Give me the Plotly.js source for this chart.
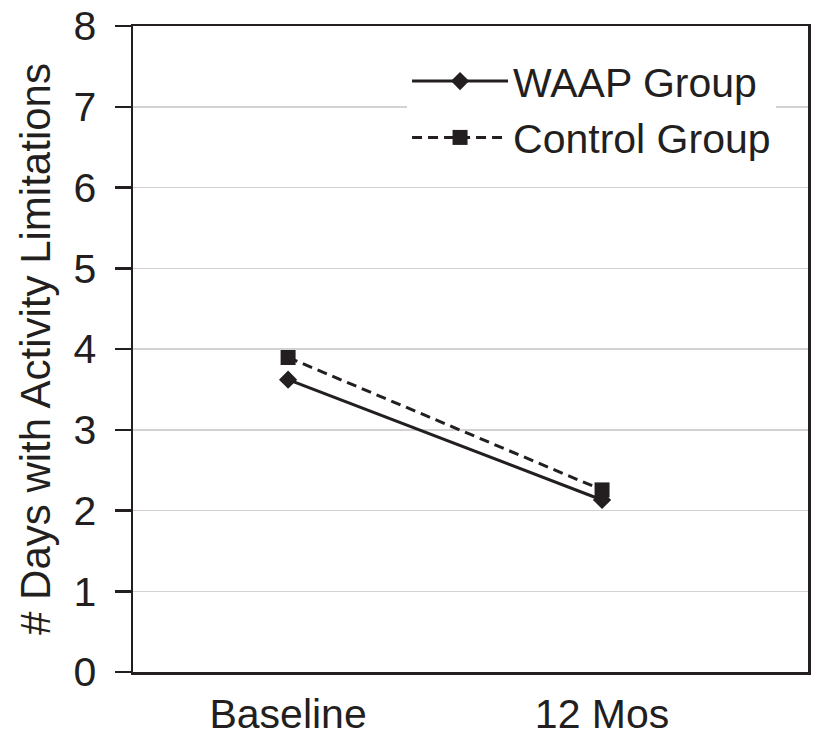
<!DOCTYPE html>
<html>
<head>
<meta charset="utf-8">
<script src="https://cdn.plot.ly/plotly-3.0.1.min.js"></script>
<style>html,body{margin:0;padding:0;background:#fff;}#chart{width:816px;height:738px;}</style>
</head>
<body>
<div id="chart"></div>
<script>
const categories = ["Baseline", "12 Mos"];
const waapValues = [3.62, 2.13];
const controlValues = [3.895, 2.255];
const yTickVals = [0, 1, 2, 3, 4, 5, 6, 7, 8];
const seriesNames = ["WAAP Group", "Control Group"];

const ink = "#231f20";
const traces = [
  {
    x: categories, y: waapValues, name: seriesNames[0], type: "scatter", mode: "lines+markers",
    line: {color: ink, width: 3},
    marker: {symbol: "diamond", size: 14, color: ink}
  },
  {
    x: categories, y: controlValues, name: seriesNames[1], type: "scatter", mode: "lines+markers",
    line: {color: ink, width: 3, dash: "10px,6px"},
    marker: {symbol: "square", size: 15, color: ink}
  }
];

const layout = {
  width: 816, height: 738,
  margin: {l: 133, r: 8, t: 26, b: 66},
  paper_bgcolor: "#fff", plot_bgcolor: "#fff",
  font: {family: "Liberation Sans, Arial, sans-serif", color: ink, size: 41},
  showlegend: true,
  legend: {
    x: 0.406, y: 0.966, xanchor: "left", yanchor: "top",
    bgcolor: "#fff", font: {size: 41, color: ink}, itemwidth: 96
  },
  xaxis: {
    type: "category", range: [-0.494, 1.656],
    showgrid: false, zeroline: false,
    showline: true, linecolor: ink, linewidth: 2.5, mirror: true,
    ticks: "", tickfont: {size: 41}, ticklabelstandoff: 4
  },
  yaxis: {
    range: [0, 8], tickvals: yTickVals, ticktext: yTickVals.map(String),
    showgrid: true, gridcolor: "#d2d2d2", gridwidth: 1.5, zeroline: false,
    showline: true, linecolor: ink, linewidth: 2.5, mirror: true,
    ticks: "outside", ticklen: 16, tickwidth: 2.5, tickcolor: ink,
    tickfont: {size: 41}, ticklabelstandoff: 10,
    title: {text: "# Days with Activity Limitations", font: {size: 42}, standoff: 10}
  }
};

Plotly.newPlot("chart", traces, layout, {displayModeBar: false, staticPlot: true});
</script>
</body>
</html>
